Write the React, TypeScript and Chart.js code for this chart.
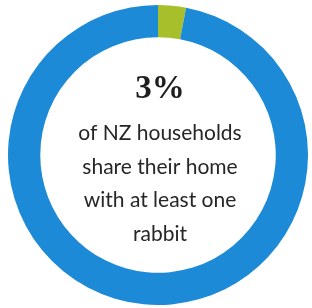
import React, { useEffect, useRef } from "react";
import { Chart, registerables } from "chart.js";

Chart.register(...registerables);

const categories = ["Share home with a rabbit", "Other households"];
const values = [3, 97];
const colors = ["#a6bf2a", "#1c8ad6"];
const headline = "3%";
const captionLines = ["of NZ households", "share their home", "with at least one", "rabbit"];

const centerTextPlugin = {
  id: "centerText",
  afterDraw(chart: any) {
    const { ctx, chartArea } = chart;
    const cx = (chartArea.left + chartArea.right) / 2 + 2;
    const cy = (chartArea.top + chartArea.bottom) / 2;
    ctx.save();
    ctx.textAlign = "center";
    ctx.textBaseline = "alphabetic";
    ctx.fillStyle = "#1e1e1e";
    ctx.font = "bold 33px 'Liberation Serif', serif";
    ctx.fillText(headline, cx, cy - 57);
    ctx.fillStyle = "#262626";
    ctx.font = "21px Lato, sans-serif";
    captionLines.forEach((line, i) => {
      ctx.fillText(line, cx, cy - 15 + i * 33.5);
    });
    ctx.restore();
  },
};

export default function App() {
  const ref = useRef<HTMLCanvasElement | null>(null);
  useEffect(() => {
    document.body.style.margin = "0";
    const canvas = ref.current;
    if (!canvas) return;
    const chart = new Chart(canvas, {
      type: "doughnut",
      data: {
        labels: categories,
        datasets: [
          {
            data: values,
            backgroundColor: colors,
            borderWidth: 0,
          },
        ],
      },
      options: {
        responsive: false,
        animation: false,
        cutout: "78.5%",
        layout: { padding: { left: 8, right: 4, top: 5, bottom: 3 } },
        plugins: {
          legend: { display: false },
          tooltip: { enabled: false },
        },
      },
      plugins: [centerTextPlugin],
    });
    return () => chart.destroy();
  }, []);
  return (
    <div style={{ width: 312, height: 308, background: "#ffffff" }}>
      <canvas ref={ref} width={312} height={308} style={{ display: "block" }} />
    </div>
  );
}
